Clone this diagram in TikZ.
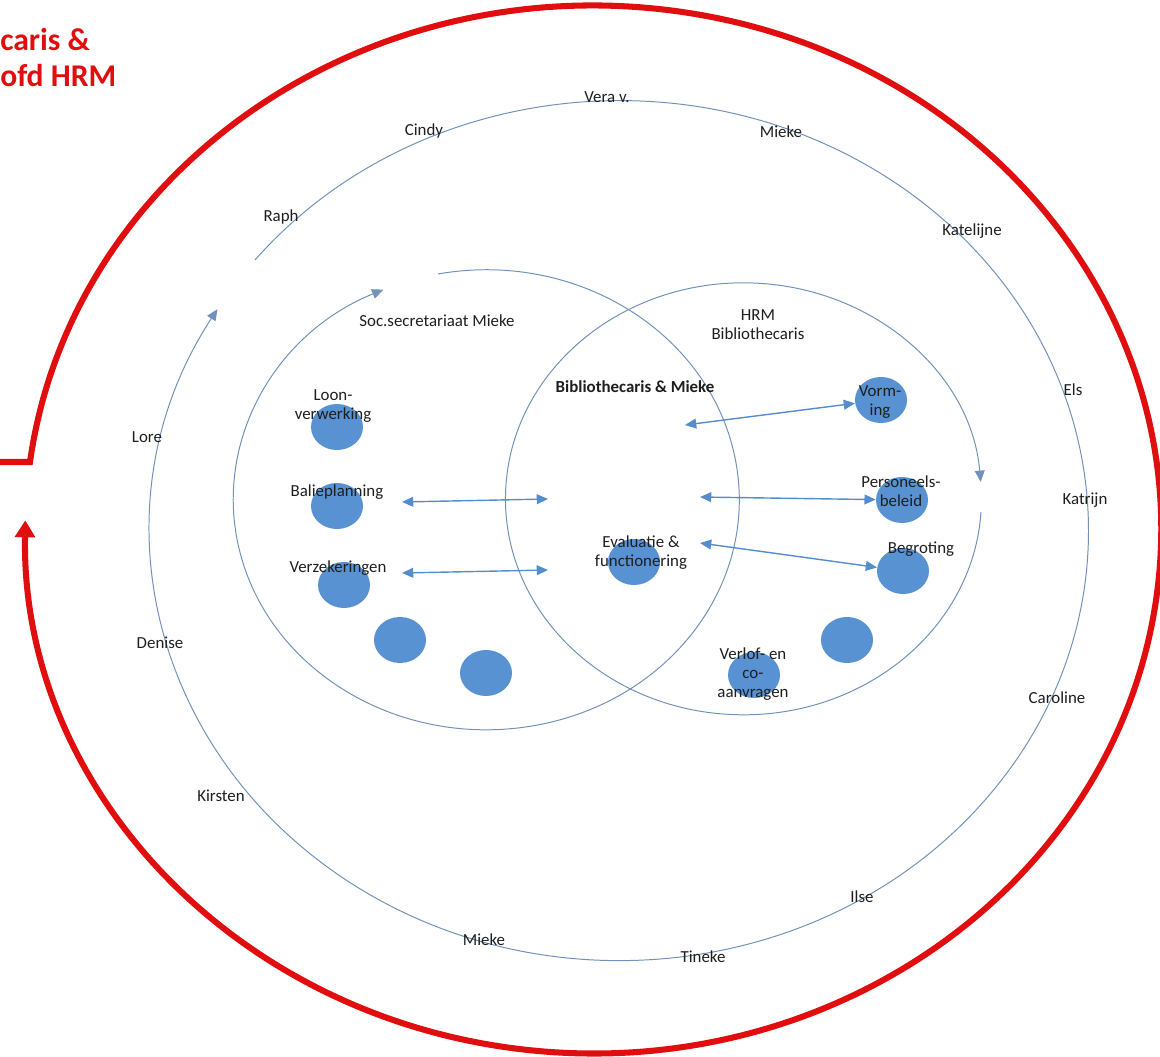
\documentclass[tikz,border=0pt]{standalone}
\usepackage{fontspec}
\setmainfont{Carlito}
\usetikzlibrary{shapes}
\usetikzlibrary{arrows.meta}
\definecolor{ringblue}{RGB}{112,146,186}
\definecolor{linkblue}{RGB}{84,141,204}
\definecolor{dotblue}{RGB}{88,146,210}
\definecolor{hrmred}{RGB}{224,14,14}
\definecolor{txt}{RGB}{30,30,30}
\begin{document}
\begin{tikzpicture}[x=0.025cm, y=-0.025cm,
  dot/.style={ellipse, fill=dotblue, inner sep=0, minimum width=1.3cm, minimum height=1.15cm},
  lbl/.style={inner sep=0, align=center, text=txt, font=\fontsize{12}{13.5}\selectfont},
  ring/.style={draw=ringblue, line width=0.7pt},
  link/.style={draw=linkblue, line width=1pt, <->},
  >={Triangle[length=8pt, width=7pt]}]
\useasboundingbox (0,0) rectangle (1160,1057);
\node[anchor=base west, inner sep=0, text=hrmred, font=\fontsize{22.5}{26}\selectfont\bfseries] (title1) at (0,51) {caris \&};
\node[anchor=base west, inner sep=0, text=hrmred, font=\fontsize{22.5}{26}\selectfont\bfseries] (title2) at (0,87) {ofd HRM};
\draw[hrmred, line width=4.3pt, -{Triangle[length=12pt, width=14pt]}] (0,462) -- (30,462) arc[start angle=-172.6, end angle=181, x radius=568, y radius=524];
\draw[ring, ->] (255,260) arc[start angle=-141, end angle=211, x radius=469, y radius=430];
\draw[ring, ->] (438,274) arc[start angle=-101, end angle=246, x radius=253, y radius=230];
\draw[ring, ->] (981,512) arc[start angle=3.5, end angle=355.5, x radius=238, y radius=216];
\node[dot] (loon) at (337,427) {};
\node[dot] (balie) at (337,506) {};
\node[dot] (verz) at (344,585) {};
\node[dot] (d4) at (400,640) {};
\node[dot] (d5) at (486,673) {};
\node[dot] (eval) at (634,562) {};
\node[dot] (vorm) at (881,400) {};
\node[dot] (pers) at (902,500) {};
\node[dot] (begr) at (903,571) {};
\node[dot] (d10) at (847,640) {};
\node[dot] (verlof) at (754,675) {};
\coordinate (a1) at (402,502);
\coordinate (b1) at (548,499);
\coordinate (a2) at (402,573);
\coordinate (b2) at (548,570);
\coordinate (c1) at (685,425);
\coordinate (c2) at (700,497);
\coordinate (c3) at (700,543);
\draw[link] (a1) -- (b1);
\draw[link] (a2) -- (b2);
\draw[link] (c1) -- (vorm);
\draw[link] (c2) -- (pers);
\draw[link] (c3) -- (begr);
\node[lbl] (tloon) at (333,406) {Loon-\\verwerking};
\node[lbl] (tbalie) at (337,492) {Balieplanning};
\node[lbl] (tverz) at (338,568) {Verzekeringen};
\node[lbl] (teval) at (641,553) {Evaluatie \&\\functionering};
\node[lbl, font=\fontsize{12}{13.5}\selectfont\bfseries] (tbm) at (635,387) {Bibliothecaris \& Mieke};
\node[lbl] (thrm) at (758,325) {HRM\\Bibliothecaris};
\node[lbl] (tsoc) at (437,321) {Soc.secretariaat Mieke};
\node[lbl] (tvorm) at (880,402) {Vorm-\\ing};
\node[lbl] (tpers) at (901,491) {Personeels-\\beleid};
\node[lbl] (tbegr) at (921,549) {Begroting};
\node[lbl] (tverlof) at (753,674) {Verlof- en\\co-\\aanvragen};
\node[lbl] (vera) at (607,97) {Vera v.};
\node[lbl] (cindy) at (424,131) {Cindy};
\node[lbl] (mieke1) at (781,132) {Mieke};
\node[lbl] (raph) at (281,217) {Raph};
\node[lbl] (katel) at (972,231) {Katelijne};
\node[lbl] (els) at (1073,390) {Els};
\node[lbl] (katrijn) at (1085,500) {Katrijn};
\node[lbl] (caroline) at (1057,698) {Caroline};
\node[lbl] (ilse) at (862,897) {Ilse};
\node[lbl] (tineke) at (703,957) {Tineke};
\node[lbl] (mieke2) at (484,940) {Mieke};
\node[lbl] (kirsten) at (221,796) {Kirsten};
\node[lbl] (denise) at (160,643) {Denise};
\node[lbl] (lore) at (147,437) {Lore};
\end{tikzpicture}
\end{document}
